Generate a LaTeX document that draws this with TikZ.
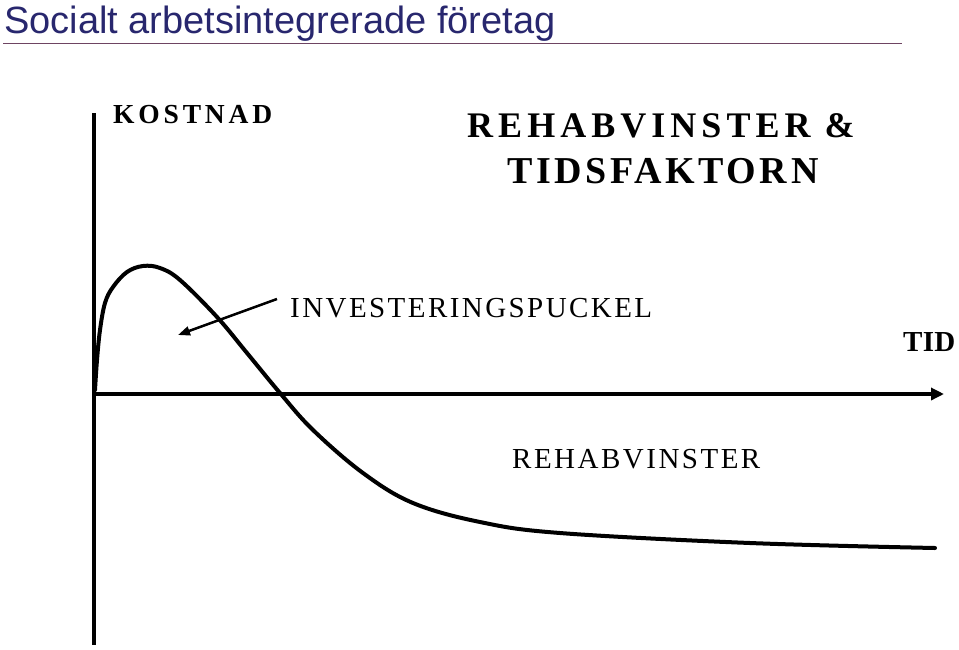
\documentclass[tikz,border=0pt]{standalone}
\usepackage{fontspec}
\setmainfont{Liberation Serif}
\newfontfamily\titlefont{Liberation Sans}
\usetikzlibrary{arrows.meta,positioning}
\definecolor{heading}{HTML}{28276E}
\definecolor{headrule}{HTML}{6E4462}

\begin{document}
\begin{tikzpicture}[x=1pt,y=-1pt,
  axis/.style={line width=3.5pt},
  curve/.style={line width=4pt,line cap=round},
  lbl/.style={inner sep=0pt,anchor=base west}]
  \useasboundingbox (0,0) rectangle (959,649);
  \node[lbl,font=\titlefont\fontsize{38}{38}\selectfont,text=heading] (title) at (4,33) {Socialt arbetsintegrerade företag};
  \coordinate (rule0) at (3,43.5);
  \coordinate (rule1) at (902,43.5);
  \draw[headrule,line width=1.5pt] (rule0) -- (rule1);
  \coordinate (orig) at (94,394);
  \coordinate (ytop) at (94,113);
  \coordinate (ybot) at (94,645);
  \coordinate (xend) at (944,394);
  \draw[axis] (ytop) -- (ybot);
  \draw[axis,-{Triangle[length=13pt,width=12pt]}] (orig) -- (xend);
  \draw[curve] plot[smooth,tension=0.6] coordinates {(95,390) (97,360) (100,330) (105,303) (113,287) (127,272) (143,266) (160,268) (180,280) (217,317) (247,353) (280,393) (313,430) (363,473) (413,503) (480,522) (560,533) (750,543) (935,548)};
  \node[lbl,font=\bfseries\fontsize{27.5}{27.5}\selectfont\addfontfeature{LetterSpace=14}] (kostnad) at (113,123) {KOSTNAD};
  \node[lbl,font=\bfseries\fontsize{36}{36}\selectfont\addfontfeature{LetterSpace=14}] (rehabvinst) at (467,137) {REHABVINSTER \&};
  \node[lbl,font=\bfseries\fontsize{38}{38}\selectfont\addfontfeature{LetterSpace=9.5}] (tidsfaktor) at (507,183) {TIDSFAKTORN};
  \node[lbl,font=\fontsize{29}{29}\selectfont\addfontfeature{LetterSpace=8.4}] (puckel) at (290,317) {INVESTERINGSPUCKEL};
  \node[lbl,font=\bfseries\fontsize{29}{29}\selectfont\addfontfeature{LetterSpace=1}] (tid) at (903,351) {TID};
  \node[lbl,font=\fontsize{29}{29}\selectfont\addfontfeature{LetterSpace=8.6}] (rehab) at (512,468) {REHABVINSTER};
  \coordinate (tail) at (277,299);
  \coordinate (tip) at (178,335);
  \draw[line width=2.5pt,-{Triangle[length=12pt,width=9pt]}] (tail) -- (tip);
\end{tikzpicture}
\end{document}
